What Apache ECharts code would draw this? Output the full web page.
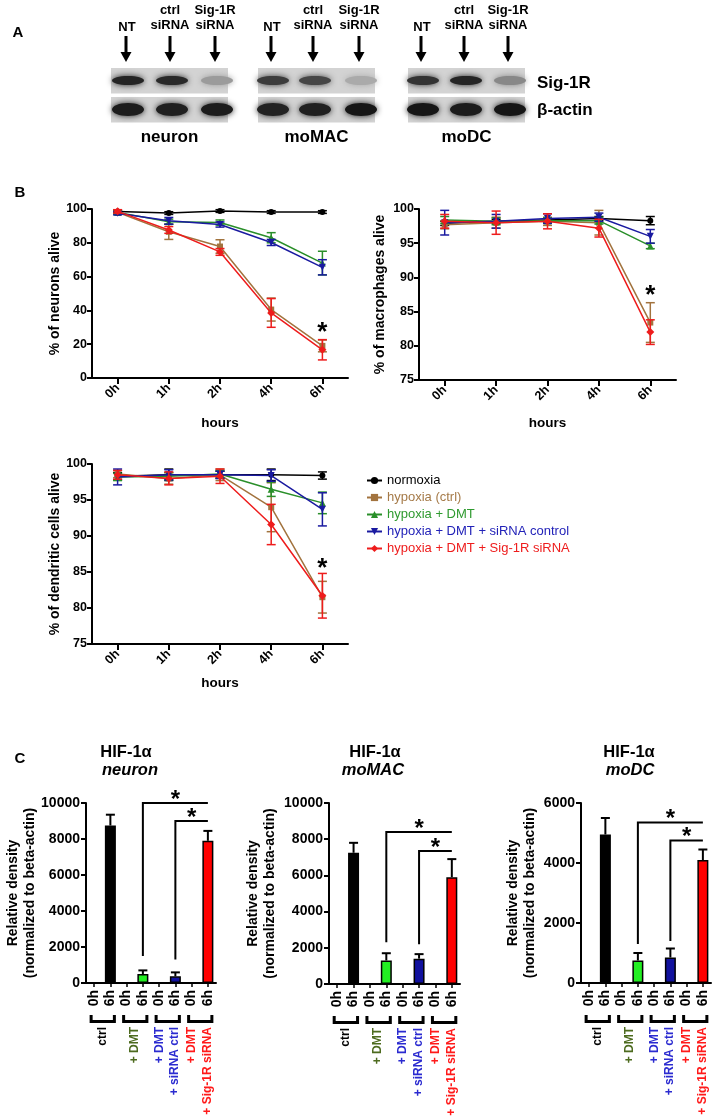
<!DOCTYPE html>
<html><head><meta charset="utf-8">
<script src="https://cdn.jsdelivr.net/npm/echarts@6/dist/echarts.min.js"></script>
<style>html,body{margin:0;padding:0;background:#fff}#c{width:714px;height:1116px}</style>
</head><body><div id="c"></div>
<script>
const FONT = '"Liberation Sans", Arial, Helvetica, sans-serif';

// ---------- Panel A data ----------
const laneLabels = [['NT'], ['ctrl', 'siRNA'], ['Sig-1R', 'siRNA']];
const cellTypes = ['neuron', 'moMAC', 'moDC'];
const blotRows = ['Sig-1R', 'β-actin'];
const sigBandIntensity = [[0.92, 0.90, 0.30], [0.80, 0.75, 0.22], [0.85, 0.92, 0.40]];
const actinBandIntensity = [[0.97, 0.95, 0.97], [0.93, 0.95, 1.00], [1.00, 0.97, 1.00]];

// ---------- Panel B data ----------
const hours = ['0h', '1h', '2h', '4h', '6h'];
const conditions = ['normoxia', 'hypoxia (ctrl)', 'hypoxia + DMT', 'hypoxia + DMT + siRNA control', 'hypoxia + DMT + Sig-1R siRNA'];
const neuronMeans = [
  [98.5, 97.6, 98.8, 98.2, 98.2],
  [98.0, 86.5, 77.8, 40.5, 19.0],
  [98.0, 92.5, 92.0, 83.0, 68.0],
  [97.5, 93.0, 90.8, 80.2, 65.5],
  [98.6, 87.6, 74.6, 38.5, 16.7]
];
const neuronErrs = [
  [0.8, 0.8, 0.8, 0.8, 0.8],
  [1.0, 4.5, 4.0, 6.8, 3.5],
  [1.0, 1.5, 1.5, 3.0, 7.0],
  [1.0, 2.0, 1.5, 1.8, 4.5],
  [1.0, 2.0, 2.0, 8.5, 6.0]
];
const macMeans = [
  [97.9, 98.2, 98.4, 98.6, 98.3],
  [97.7, 98.0, 98.2, 98.0, 83.4],
  [98.4, 98.2, 98.3, 98.3, 94.6],
  [98.0, 98.2, 98.6, 98.8, 96.0],
  [98.2, 98.0, 98.2, 97.2, 82.0]
];
const macErrs = [
  [0.3, 0.3, 0.3, 0.3, 0.6],
  [0.6, 0.8, 0.6, 1.8, 2.9],
  [0.5, 0.5, 0.4, 0.5, 0.4],
  [1.8, 1.0, 0.7, 0.6, 1.0],
  [1.0, 1.7, 1.1, 1.3, 1.8]
];
const dcMeans = [
  [98.3, 98.5, 98.5, 98.5, 98.4],
  [98.6, 98.0, 98.5, 94.0, 81.5],
  [98.2, 98.3, 98.6, 96.5, 94.6],
  [98.2, 98.5, 98.5, 98.4, 93.7],
  [98.5, 98.0, 98.3, 91.6, 81.7]
];
const dcErrs = [
  [0.5, 0.8, 0.5, 0.8, 0.5],
  [0.5, 0.8, 0.8, 3.4, 2.2],
  [0.5, 0.5, 0.5, 1.0, 1.5],
  [1.1, 0.7, 0.5, 0.8, 2.3],
  [0.6, 0.9, 1.0, 2.8, 3.1]
];
const survivalYNames = ['% of neurons alive', '% of macrophages alive', '% of dendritic cells alive'];
const survivalYTicks = [[0, 100, 20], [75, 100, 5], [75, 100, 5]];
const starPositionsB = [26.7, 87.3, 85.5];

// ---------- Panel C data ----------
const barCategories = ['0h', '6h', '0h', '6h', '0h', '6h', '0h', '6h'];
const treatmentGroups = ['ctrl', '+ DMT', '+ DMT\n+ siRNA ctrl', '+ DMT\n+ Sig-1R siRNA'];
const hifTitles = ['neuron', 'moMAC', 'moDC'];
const neuronHIF = [null, 8750, null, 500, null, 370, null, 7900];
const neuronHIFErr = [0, 600, 0, 200, 0, 220, 0, 550];
const macHIF = [null, 7250, null, 1300, null, 1400, null, 5900];
const macHIFErr = [0, 550, 0, 400, 0, 250, 0, 1000];
const dcHIF = [null, 4950, null, 750, null, 850, null, 4100];
const dcHIFErr = [0, 550, 0, 250, 0, 300, 0, 350];
const hifYTicks = [[0, 10000, 2000], [0, 10000, 2000], [0, 6000, 2000]];
// significance brackets: [fromCategory, toCategory, topValue, bottomValue]
const neuronSig = [[3, 7, 10000, 1500], [5, 7, 9000, 1300]];
const macSig = [[3, 7, 8400, 2300], [5, 7, 7350, 2200]];
const dcSig = [[3, 7, 5350, 1300], [5, 7, 4750, 1400]];

// ---------- styles ----------
const lineColors = ['#000000', '#a2733e', '#2a8f2a', '#1a1aa0', '#ee1c1c'];
const legendTextColors = ['#000000', '#a57a48', '#2f9a2f', '#2222b8', '#ee1c1c'];
const symbols = ['circle', 'rect', 'triangle', 'triangle', 'diamond'];
const symbolRot = [0, 0, 0, 180, 0];
const symbolSizes = [6, 6, 7, 7, 8];
const barColors = ['#000', '#000', '#22ee22', '#22ee22', '#11119e', '#11119e', '#ff0000', '#ff0000'];
const groupTextColors = ['#000000', '#4d6b1f', '#2b2bd0', '#ff1a1a'];

const grids = [
  {left: 92, top: 209, width: 256, height: 169},
  {left: 419, top: 209, width: 257, height: 171},
  {left: 92, top: 464, width: 256, height: 180},
  {left: 86, top: 803, width: 130, height: 180},
  {left: 329, top: 803, width: 131, height: 181},
  {left: 581, top: 803, width: 130, height: 180}
].map(g => Object.assign({containLabel: false, outerBoundsMode: 'none'}, g));

const axisLineStyle = {show: true, lineStyle: {color: '#000', width: 2}};
const boldLabel = (size, extra) => Object.assign({color: '#000', fontWeight: 'bold', fontSize: size, fontFamily: FONT}, extra || {});

const xAxes = [], yAxes = [], series = [];
const bNameGapY = [30, 32, 30];
const bNameGapX = [38, 36, 32];

// Panel B
const bMeans = [neuronMeans, macMeans, dcMeans];
const bErrs = [neuronErrs, macErrs, dcErrs];
for (let k = 0; k < 3; k++) {
  xAxes.push({
    gridIndex: k, type: 'category', data: hours, boundaryGap: true,
    axisLine: axisLineStyle,
    axisTick: {show: true, alignWithLabel: true, length: 6, lineStyle: {color: '#000', width: 2}},
    axisLabel: boldLabel(12.5, {rotate: 45, margin: 8, interval: 0}),
    name: 'hours', nameLocation: 'middle', nameGap: bNameGapX[k], nameMoveOverlap: false,
    nameTextStyle: boldLabel(13.5)
  });
  yAxes.push({
    gridIndex: k, type: 'value', min: survivalYTicks[k][0], max: survivalYTicks[k][1], interval: survivalYTicks[k][2],
    axisLine: axisLineStyle,
    axisTick: {show: true, length: 5, lineStyle: {color: '#000', width: 2}},
    axisLabel: boldLabel(12.5, {margin: 5}),
    splitLine: {show: false},
    name: survivalYNames[k], nameLocation: 'middle', nameGap: bNameGapY[k], nameMoveOverlap: false,
    nameTextStyle: boldLabel(14)
  });
  for (let i = 0; i < conditions.length; i++) {
    const color = lineColors[i];
    series.push({
      type: 'custom', xAxisIndex: k, yAxisIndex: k, silent: true, z: 2 + i * 2,
      data: hours.map((h, j) => [j, bMeans[k][i][j], bErrs[k][i][j]]),
      renderItem: (p, api) => {
        const x = api.value(0), m = api.value(1), e = api.value(2);
        const t = api.coord([x, m + e]), b = api.coord([x, m - e]);
        const w = 4.5, st = {stroke: color, lineWidth: 1.5};
        return {type: 'group', children: [
          {type: 'line', shape: {x1: t[0], y1: t[1], x2: b[0], y2: b[1]}, style: st},
          {type: 'line', shape: {x1: t[0] - w, y1: t[1], x2: t[0] + w, y2: t[1]}, style: st},
          {type: 'line', shape: {x1: b[0] - w, y1: b[1], x2: b[0] + w, y2: b[1]}, style: st}
        ]};
      }
    });
    series.push({
      type: 'line', name: conditions[i], xAxisIndex: k, yAxisIndex: k, z: 3 + i * 2,
      data: bMeans[k][i], symbol: symbols[i], symbolRotate: symbolRot[i], symbolSize: symbolSizes[i],
      showAllSymbol: true,
      lineStyle: {color: color, width: 1.5}, itemStyle: {color: color}, animation: false
    });
  }
  series.push({
    type: 'custom', xAxisIndex: k, yAxisIndex: k, silent: true, z: 20,
    data: [[hours.indexOf('6h'), starPositionsB[k]]],
    renderItem: (p, api) => {
      const c = api.coord([api.value(0), api.value(1)]);
      return {type: 'text', x: c[0], y: c[1], style: {text: '*', fontSize: 26, fontWeight: 'bold', fontFamily: FONT, fill: '#000', textAlign: 'center', textVerticalAlign: 'middle'}};
    }
  });
}

// Panel C
const cVals = [neuronHIF, macHIF, dcHIF];
const cErrs = [neuronHIFErr, macHIFErr, dcHIFErr];
const cSig = [neuronSig, macSig, dcSig];
const cNameGap = [47, 50, 42];
for (let j = 0; j < 3; j++) {
  const gi = 3 + j;
  xAxes.push({
    gridIndex: gi, type: 'category', data: barCategories, boundaryGap: true, position: 'bottom',
    axisLine: axisLineStyle,
    axisTick: {show: true, alignWithLabel: true, length: 4, lineStyle: {color: '#000', width: 1.5}},
    axisLabel: boldLabel(14, {rotate: 90, margin: 7, interval: 0})
  });
  yAxes.push({
    gridIndex: gi, type: 'value', min: hifYTicks[j][0], max: hifYTicks[j][1], interval: hifYTicks[j][2],
    axisLine: axisLineStyle,
    axisTick: {show: true, length: 5, lineStyle: {color: '#000', width: 2}},
    axisLabel: boldLabel(14, {margin: 6, formatter: v => String(v)}),
    splitLine: {show: false},
    name: 'Relative density\n(normalized to beta-actin)', nameLocation: 'middle', nameGap: cNameGap[j], nameMoveOverlap: false,
    nameTextStyle: boldLabel(14, {lineHeight: 17})
  });
}
for (let j = 0; j < 3; j++) {
  const gi = 3 + j;
  xAxes.push({
    gridIndex: gi, type: 'category', position: 'bottom', offset: 0, boundaryGap: true,
    data: treatmentGroups.map((g, i) => ({value: g, textStyle: {color: groupTextColors[i]}})),
    axisLine: {show: false}, axisTick: {show: false},
    axisLabel: boldLabel(12, {rotate: 90, margin: 44, interval: 0, lineHeight: 15.5})
  });
}
for (let j = 0; j < 3; j++) {
  const xi = 3 + j, yi = 3 + j;
  series.push({
    type: 'bar', xAxisIndex: xi, yAxisIndex: yi, barWidth: 11, z: 3,
    itemStyle: {borderColor: '#000', borderWidth: 1.5},
    data: cVals[j].map((v, i) => v == null ? '-' : {value: v, itemStyle: {color: barColors[i]}})
  });
  series.push({
    type: 'custom', xAxisIndex: xi, yAxisIndex: yi, silent: true, z: 2,
    data: cVals[j].map((v, i) => [i, v, cErrs[j][i]]).filter(d => d[1] != null),
    renderItem: (p, api) => {
      const x = api.value(0), m = api.value(1), e = api.value(2);
      const b = api.coord([x, m]), t = api.coord([x, m + e]);
      const st = {stroke: '#000', lineWidth: 2};
      return {type: 'group', children: [
        {type: 'line', shape: {x1: b[0], y1: b[1], x2: t[0], y2: t[1]}, style: st},
        {type: 'line', shape: {x1: t[0] - 4.5, y1: t[1], x2: t[0] + 4.5, y2: t[1]}, style: st}
      ]};
    }
  });
  series.push({
    type: 'custom', xAxisIndex: xi, yAxisIndex: yi, silent: true, z: 4,
    encode: {x: 0, y: 2},
    data: cSig[j],
    renderItem: (p, api) => {
      const a = api.coord([api.value(0), api.value(3)]);
      const b = api.coord([api.value(0), api.value(2)]);
      const c = api.coord([api.value(1), api.value(2)]);
      return {type: 'group', children: [
        {type: 'polyline', shape: {points: [a, b, c]}, style: {stroke: '#000', lineWidth: 2, fill: null}},
        {type: 'text', x: (b[0] + c[0]) / 2, y: b[1] - 3, style: {text: '*', fontSize: 24, fontWeight: 'bold', fontFamily: FONT, fill: '#000', textAlign: 'center', textVerticalAlign: 'middle'}}
      ]};
    }
  });
  series.push({
    type: 'custom', xAxisIndex: xi, yAxisIndex: yi, silent: true, z: 4,
    encode: {x: 0, y: 2},
    data: treatmentGroups.map((g, i) => [2 * i, 2 * i + 1, 0]),
    renderItem: (p, api) => {
      const a = api.coord([api.value(0), 0]);
      const b = api.coord([api.value(1), 0]);
      const y0 = a[1] + 32, y1 = a[1] + 38.5;
      return {type: 'polyline', shape: {points: [[a[0] - 3, y0], [a[0] - 3, y1], [b[0] + 4, y1], [b[0] + 4, y0]]}, style: {stroke: '#000', lineWidth: 3, fill: null}};
    }
  });
}

// ---------- free graphics: panel A blots and titles ----------
const graphics = [];
function txt(x, y, text, size, opts) {
  opts = opts || {};
  graphics.push({type: 'text', x: x, y: y, z: 10, silent: true, style: {
    text: text, fontSize: size, fontWeight: 'bold', fontStyle: opts.italic ? 'italic' : 'normal', fontFamily: FONT,
    fill: opts.color || '#000', textAlign: opts.align || 'center', textVerticalAlign: 'middle'}});
}
txt(18, 33, 'A', 15); txt(20, 193, 'B', 15); txt(20, 759, 'C', 15);

const BLOT_LEFT = [111, 258, 408], BLOT_W = 117;
const LANE_X = [[126, 170, 215], [271, 313, 359], [421, 464, 508]];
const ROW_TOP = [68, 97], ROW_H = 25.5;
function gray(v) { const g = Math.round(212 - v * 190); return `rgb(${g},${g},${g})`; }
for (let c = 0; c < cellTypes.length; c++) {
  for (let r = 0; r < blotRows.length; r++) {
    graphics.push({type: 'rect', z: 1, silent: true, shape: {x: BLOT_LEFT[c], y: ROW_TOP[r], width: BLOT_W, height: ROW_H}, style: {fill: '#d3d3d3'}});
    const inten = r === 0 ? sigBandIntensity[c] : actinBandIntensity[c];
    for (let l = 0; l < 3; l++) {
      const col = gray(inten[l]);
      graphics.push({type: 'ellipse', z: 2, silent: true,
        shape: {cx: LANE_X[c][l] + 2, cy: r === 0 ? 80.5 : 109.5, rx: 16, ry: r === 0 ? 4.5 : 6.5},
        style: {fill: col, shadowBlur: 6, shadowColor: col}});
    }
  }
  for (let l = 0; l < 3; l++) {
    const x = LANE_X[c][l];
    const lines = laneLabels[l];
    if (lines.length === 1) txt(x + 1, 27, lines[0], 13);
    else { txt(x, 10, lines[0], 13); txt(x, 25, lines[1], 13); }
    graphics.push({type: 'line', z: 3, silent: true, shape: {x1: x, y1: 36, x2: x, y2: 54}, style: {stroke: '#000', lineWidth: 3}});
    graphics.push({type: 'polygon', z: 3, silent: true, shape: {points: [[x - 5.5, 52], [x + 5.5, 52], [x, 62]]}, style: {fill: '#000'}});
  }
  txt(BLOT_LEFT[c] + BLOT_W / 2, 137, cellTypes[c], 17);
}
txt(537, 83, blotRows[0], 17, {align: 'left'});
txt(537, 110, blotRows[1], 17, {align: 'left'});

const hifTitleX = [[126, 130], [375, 373], [629, 630]];
for (let j = 0; j < 3; j++) {
  txt(hifTitleX[j][0], 752, 'HIF-1α', 16.5);
  txt(hifTitleX[j][1], 770, hifTitles[j], 16.5, {italic: true});
}

const chart = echarts.init(document.getElementById('c'));
chart.setOption({
  animation: false,
  backgroundColor: '#fff',
  grid: grids,
  xAxis: xAxes,
  yAxis: yAxes,
  legend: {
    left: 361, top: 469, orient: 'vertical', itemWidth: 15, itemHeight: 9, itemGap: 4,
    textStyle: {fontSize: 13, fontFamily: FONT, lineHeight: 13},
    data: conditions.map((n, i) => ({name: n, textStyle: {color: legendTextColors[i]}}))
  },
  series: series,
  graphic: graphics
});
</script></body></html>
